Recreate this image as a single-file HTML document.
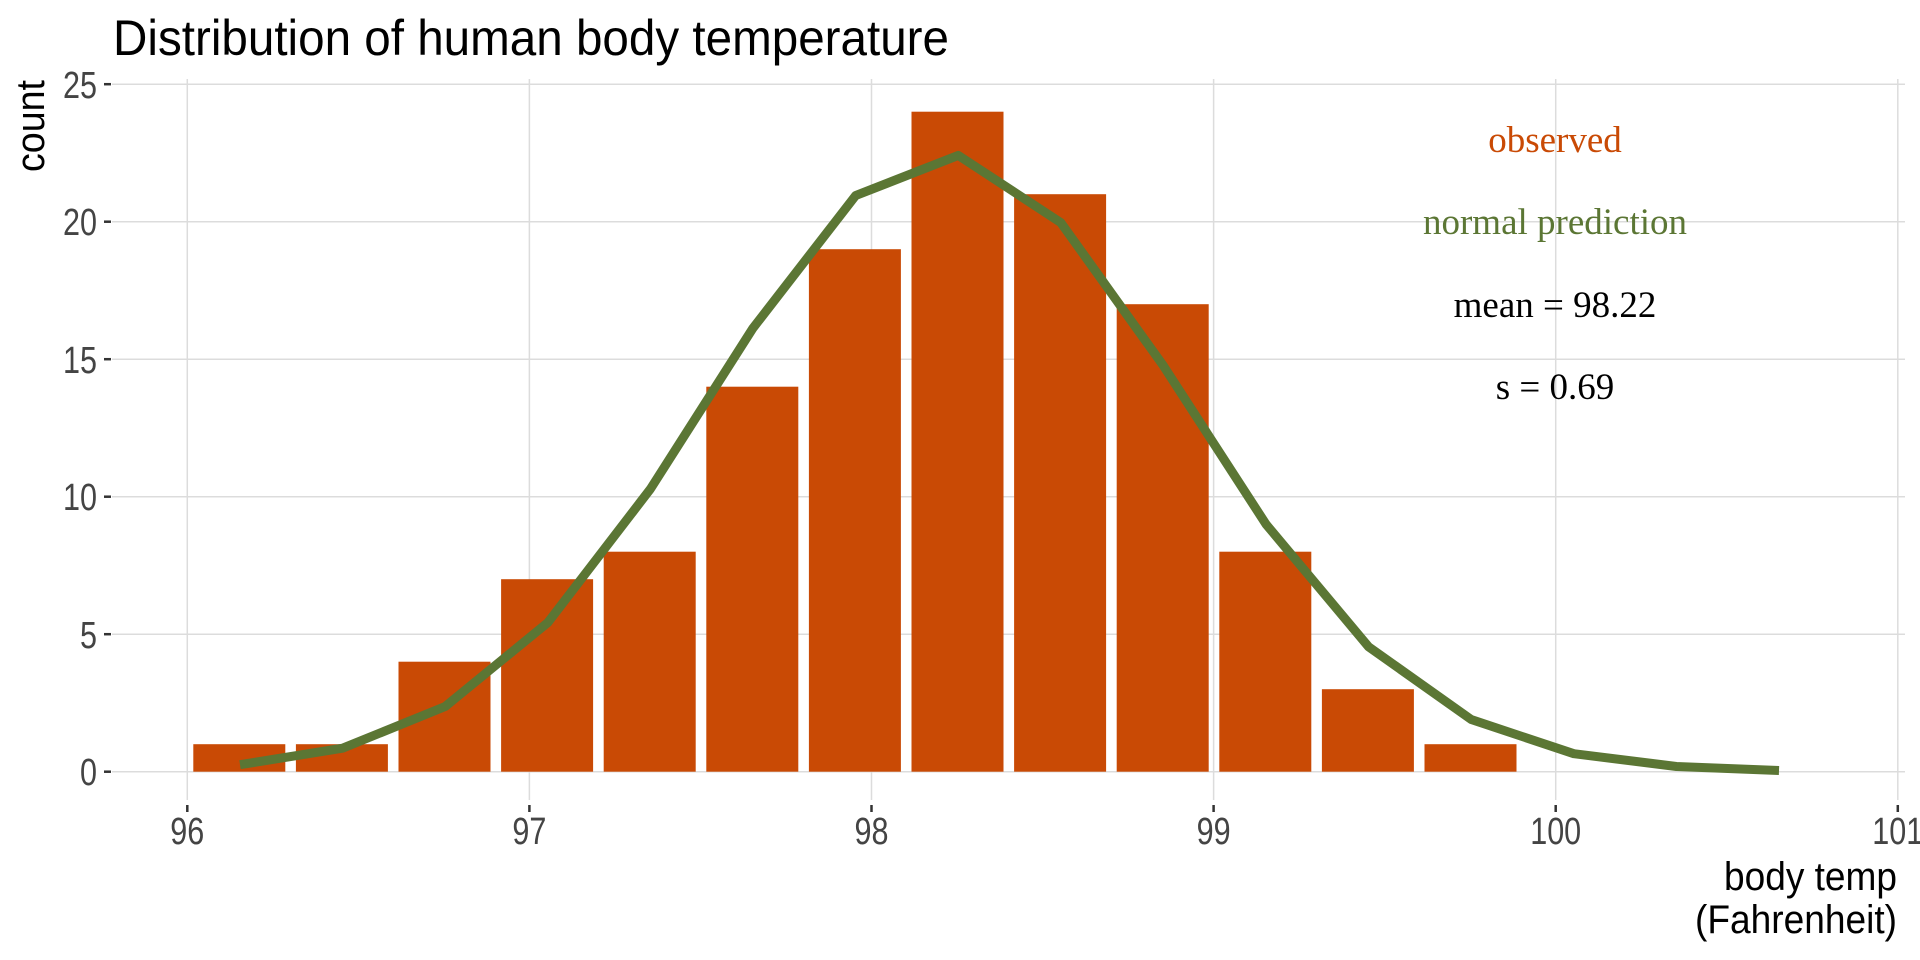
<!DOCTYPE html>
<html><head><meta charset="utf-8"><style>
html,body{margin:0;padding:0;background:#fff;}
svg{display:block;}
.cond{font-family:"Liberation Sans Narrow","Liberation Sans",sans-serif;}
</style></head><body>
<svg width="1920" height="960" viewBox="0 0 1920 960" xmlns="http://www.w3.org/2000/svg">
<g stroke="#dcdcdc" stroke-width="1.5">
<line x1="112" x2="1905" y1="771.7" y2="771.7"/>
<line x1="112" x2="1905" y1="634.2" y2="634.2"/>
<line x1="112" x2="1905" y1="496.7" y2="496.7"/>
<line x1="112" x2="1905" y1="359.2" y2="359.2"/>
<line x1="112" x2="1905" y1="221.7" y2="221.7"/>
<line x1="112" x2="1905" y1="84.2" y2="84.2"/>
<line x1="187.3" x2="187.3" y1="79" y2="800"/>
<line x1="529.4" x2="529.4" y1="79" y2="800"/>
<line x1="871.5" x2="871.5" y1="79" y2="800"/>
<line x1="1213.6" x2="1213.6" y1="79" y2="800"/>
<line x1="1555.7" x2="1555.7" y1="79" y2="800"/>
<line x1="1897.8" x2="1897.8" y1="79" y2="800"/>
</g>
<g stroke="#333" stroke-width="2.5">
<line x1="104" x2="111" y1="771.7" y2="771.7"/>
<line x1="104" x2="111" y1="634.2" y2="634.2"/>
<line x1="104" x2="111" y1="496.7" y2="496.7"/>
<line x1="104" x2="111" y1="359.2" y2="359.2"/>
<line x1="104" x2="111" y1="221.7" y2="221.7"/>
<line x1="104" x2="111" y1="84.2" y2="84.2"/>
<line x1="187.3" x2="187.3" y1="805" y2="812"/>
<line x1="529.4" x2="529.4" y1="805" y2="812"/>
<line x1="871.5" x2="871.5" y1="805" y2="812"/>
<line x1="1213.6" x2="1213.6" y1="805" y2="812"/>
<line x1="1555.7" x2="1555.7" y1="805" y2="812"/>
<line x1="1897.8" x2="1897.8" y1="805" y2="812"/>
</g>
<g fill="#c94a05">
<rect x="193.3" y="744.2" width="92" height="27.5"/>
<rect x="295.9" y="744.2" width="92" height="27.5"/>
<rect x="398.5" y="661.7" width="92" height="110"/>
<rect x="501.1" y="579.2" width="92" height="192.5"/>
<rect x="603.7" y="551.7" width="92" height="220"/>
<rect x="706.3" y="386.7" width="92" height="385"/>
<rect x="808.9" y="249.2" width="92" height="522.5"/>
<rect x="911.5" y="111.7" width="92" height="660"/>
<rect x="1014.1" y="194.2" width="92" height="577.5"/>
<rect x="1116.7" y="304.2" width="92" height="467.5"/>
<rect x="1219.3" y="551.7" width="92" height="220"/>
<rect x="1321.9" y="689.2" width="92" height="82.5"/>
<rect x="1424.5" y="744.2" width="92" height="27.5"/>
</g>
<polyline fill="none" stroke="#5b7634" stroke-width="9" stroke-linejoin="round"
points="240,764.7 342.6,748.2 445.2,706.5 547.8,622.6 650.4,489.0 753,328.1 855.6,195.6 958.2,155.4 1060.8,222.6 1163.4,365.8 1266,524.2 1368.6,646.8 1471.2,719.5 1573.8,753.7 1676.4,766.5 1779,770.5"/>
<g class="cond" fill="#444" font-size="38" text-anchor="end">
<text x="97" y="785" textLength="17" lengthAdjust="spacingAndGlyphs">0</text>
<text x="97" y="648" textLength="17" lengthAdjust="spacingAndGlyphs">5</text>
<text x="97" y="510" textLength="34" lengthAdjust="spacingAndGlyphs">10</text>
<text x="97" y="373" textLength="34" lengthAdjust="spacingAndGlyphs">15</text>
<text x="97" y="235" textLength="34" lengthAdjust="spacingAndGlyphs">20</text>
<text x="97" y="98" textLength="34" lengthAdjust="spacingAndGlyphs">25</text>
</g>
<g class="cond" fill="#444" font-size="38" text-anchor="middle">
<text x="187.3" y="844" textLength="34" lengthAdjust="spacingAndGlyphs">96</text>
<text x="529.4" y="844" textLength="34" lengthAdjust="spacingAndGlyphs">97</text>
<text x="871.5" y="844" textLength="34" lengthAdjust="spacingAndGlyphs">98</text>
<text x="1213.6" y="844" textLength="34" lengthAdjust="spacingAndGlyphs">99</text>
<text x="1555.7" y="844" textLength="51" lengthAdjust="spacingAndGlyphs">100</text>
<text x="1897.8" y="844" textLength="51" lengthAdjust="spacingAndGlyphs">101</text>
</g>
<text class="cond" x="113" y="55" font-size="50" fill="#000" textLength="836" lengthAdjust="spacingAndGlyphs">Distribution of human body temperature</text>
<text class="cond" transform="translate(44,126) rotate(-90)" text-anchor="middle" font-size="40" fill="#000" textLength="92" lengthAdjust="spacingAndGlyphs">count</text>
<g class="cond" font-size="40" fill="#000" text-anchor="end">
<text x="1897" y="890" textLength="173" lengthAdjust="spacingAndGlyphs">body temp</text>
<text x="1897" y="933" textLength="202" lengthAdjust="spacingAndGlyphs">(Fahrenheit)</text>
</g>
<g font-family="Liberation Serif, serif" font-size="37" text-anchor="middle">
<text x="1555" y="152" fill="#c94a05">observed</text>
<text x="1555" y="234" fill="#5b7634">normal prediction</text>
<text x="1555" y="317" fill="#000">mean = 98.22</text>
<text x="1555" y="399" fill="#000">s = 0.69</text>
</g>
</svg>
</body></html>
